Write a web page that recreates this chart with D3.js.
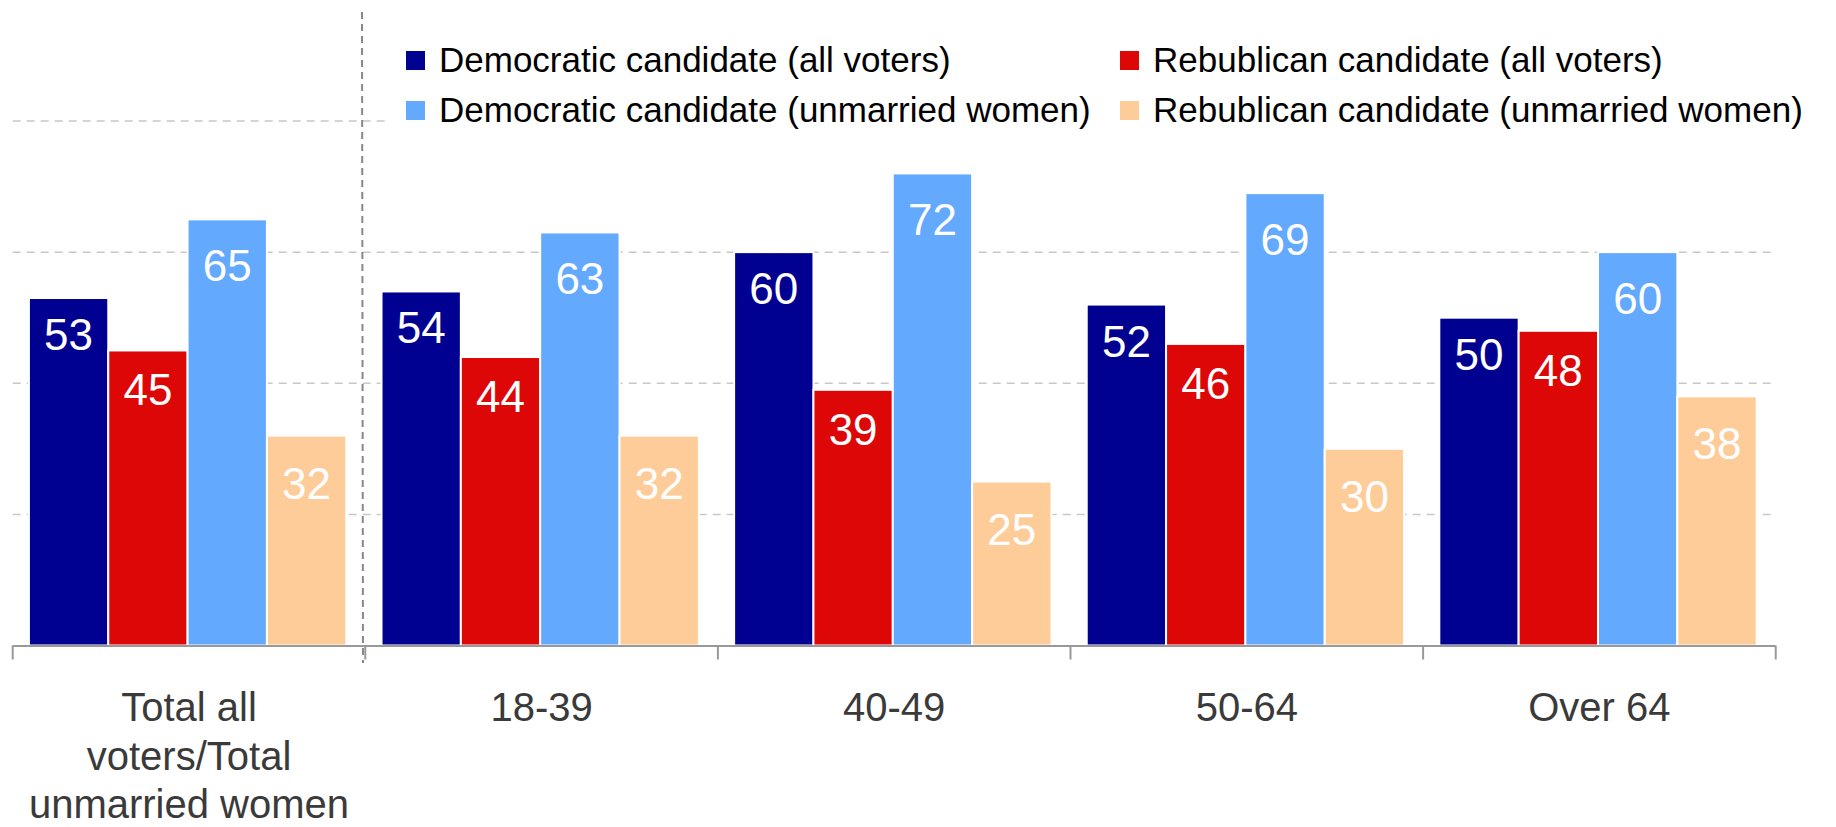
<!DOCTYPE html>
<html>
<head>
<meta charset="utf-8">
<script src="https://cdn.jsdelivr.net/npm/d3@7"></script>
<style>
  body { margin: 0; background: #fff; }
  svg { display: block; font-family: "Liberation Sans", Arial, sans-serif; }
</style>
</head>
<body>
<script>
// data
var categories = ["Total all voters/Total unmarried women", "18-39", "40-49", "50-64", "Over 64"];
var seriesNames = [
  "Democratic candidate (all voters)",
  "Rebublican candidate (all voters)",
  "Democratic candidate (unmarried women)",
  "Rebublican candidate (unmarried women)"
];
var demAll = [53, 54, 60, 52, 50];
var repAll = [45, 44, 39, 46, 48];
var demWomen = [65, 63, 72, 69, 60];
var repWomen = [32, 32, 25, 30, 38];
var gridTicks = [20, 40, 60, 80];

var seriesValues = [demAll, repAll, demWomen, repWomen];
var colors = ["#000091", "#dd0707", "#63a9fe", "#fecc99"];
// label baseline distance below the bar top, per series
var labelDrop = [52, 55, 62, 63];

var W = 1836, H = 827;
var left = 12.7, right = 1775.7, base = 645.5, top80 = 121;

var svg = d3.select("body").append("svg")
    .attr("width", W)
    .attr("height", H);

var x0 = d3.scaleBand().domain(categories).range([left, right]).padding(0);
var bw = x0.bandwidth();
var x1 = d3.scaleBand().domain(d3.range(4)).range([bw * 0.046, bw * 0.946]).padding(0);
var y = d3.scaleLinear().domain([0, 80]).range([base, top80]);

// gridlines
svg.append("g").selectAll("line")
    .data(gridTicks)
  .enter().append("line")
    .attr("x1", left)
    .attr("x2", right)
    .attr("y1", function(d) { return y(d); })
    .attr("y2", function(d) { return y(d); })
    .attr("stroke", "#c8c8c8")
    .attr("stroke-width", 1.5)
    .attr("stroke-dasharray", "8,6");

// bars
var rows = categories.map(function(c, i) {
  return seriesValues.map(function(s, j) { return {cat: c, s: j, v: s[i]}; });
});

var groups = svg.append("g").selectAll("g")
    .data(rows)
  .enter().append("g")
    .attr("transform", function(d, i) { return "translate(" + x0(categories[i]) + ",0)"; });

groups.selectAll("rect")
    .data(function(d) { return d; })
  .enter().append("rect")
    .attr("x", function(d) { return x1(d.s); })
    .attr("width", x1.bandwidth())
    .attr("y", function(d) { return y(d.v); })
    .attr("height", function(d) { return base - y(d.v); })
    .attr("fill", function(d) { return colors[d.s]; })
    .attr("stroke", "#fff")
    .attr("stroke-width", 2);

groups.selectAll("text")
    .data(function(d) { return d; })
  .enter().append("text")
    .attr("x", function(d) { return x1(d.s) + x1.bandwidth() / 2; })
    .attr("y", function(d) { return y(d.v) + labelDrop[d.s]; })
    .attr("text-anchor", "middle")
    .attr("fill", "#fff")
    .style("font-size", "44px")
    .text(function(d) { return d.v; });

// x axis: line with ticks at the band edges
svg.append("line")
    .attr("x1", left).attr("x2", right)
    .attr("y1", base + 0.5).attr("y2", base + 0.5)
    .attr("stroke", "#999").attr("stroke-width", 2);

var edges = categories.map(function(c) { return x0(c); }).concat([right]);
svg.append("g").selectAll("line")
    .data(edges)
  .enter().append("line")
    .attr("x1", function(d) { return d; })
    .attr("x2", function(d) { return d; })
    .attr("y1", base)
    .attr("y2", base + 14)
    .attr("stroke", "#999")
    .attr("stroke-width", 2);

// category labels, wrapped to the band
function wrap(str, maxW, size) {
  var words = str.split(" "), lines = [], cur = "";
  var probe = svg.append("text").style("font-size", size + "px");
  words.forEach(function(w) {
    var t = cur ? cur + " " + w : w;
    probe.text(t);
    if (probe.node().getComputedTextLength() > maxW && cur) {
      lines.push(cur);
      cur = w;
    } else {
      cur = t;
    }
  });
  lines.push(cur);
  probe.remove();
  return lines;
}

categories.forEach(function(c) {
  var lines = wrap(c, 340, 40);
  var t = svg.append("text")
      .attr("x", x0(c) + bw / 2)
      .attr("y", 721)
      .attr("text-anchor", "middle")
      .attr("fill", "#3a3a3a")
      .style("font-size", "40px");
  lines.forEach(function(l, i) {
    t.append("tspan")
        .attr("x", x0(c) + bw / 2)
        .attr("dy", i === 0 ? 0 : 48.5)
        .text(l);
  });
});

// dashed separator between the total and the age groups
svg.append("line")
    .attr("x1", 362).attr("x2", 363)
    .attr("y1", 12).attr("y2", 663)
    .attr("stroke", "#888")
    .attr("stroke-width", 2)
    .attr("stroke-dasharray", "7,5");

// legend
var legend = svg.append("g");
legend.append("rect")
    .attr("x", 390).attr("y", 30)
    .attr("width", W - 390).attr("height", 106)
    .attr("fill", "#fff");

var legendPos = [[406, 51], [1120, 51], [406, 101], [1120, 101]];
seriesNames.forEach(function(name, i) {
  var p = legendPos[i];
  legend.append("rect")
      .attr("x", p[0]).attr("y", p[1])
      .attr("width", 19).attr("height", 19)
      .attr("fill", colors[i]);
  legend.append("text")
      .attr("x", p[0] + 33)
      .attr("y", p[1] + 20.7)
      .attr("fill", "#000")
      .style("font-size", "35px")
      .text(name);
});
</script>
</body>
</html>
